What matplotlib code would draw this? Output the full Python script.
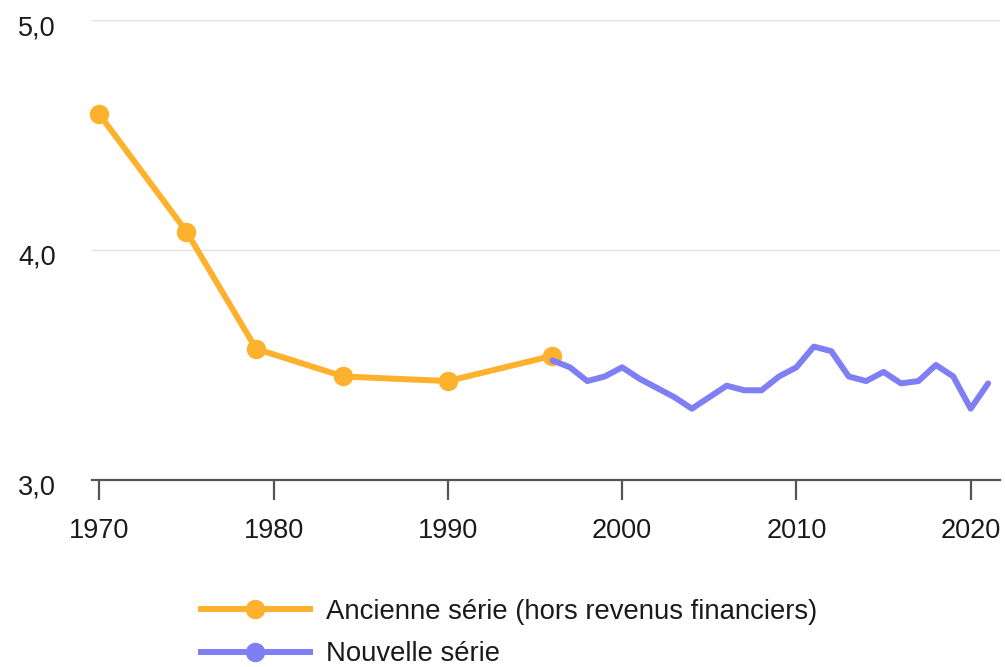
import matplotlib
matplotlib.use("Agg")
import matplotlib.pyplot as plt
from matplotlib.lines import Line2D
from matplotlib.transforms import ScaledTranslation

plt.rcParams['font.family'] = ['Liberation Sans', 'DejaVu Sans']

old_years = [1970, 1975, 1979, 1984, 1990, 1996]
old_values = [4.59, 4.08, 3.57, 3.45, 3.43, 3.54]

new_years = list(range(1996, 2022))
new_values = [3.52, 3.49, 3.43, 3.45, 3.49, 3.44, 3.40, 3.36, 3.31, 3.36,
              3.41, 3.39, 3.39, 3.45, 3.49, 3.58, 3.56, 3.45, 3.43, 3.47,
              3.42, 3.43, 3.50, 3.45, 3.31, 3.42]

x_ticks = [1970, 1980, 1990, 2000, 2010, 2020]
y_ticks = [3.0, 4.0, 5.0]
y_tick_labels = ['3,0', '4,0', '5,0']
labels = ['Ancienne série (hors revenus financiers)', 'Nouvelle série']

orange = '#fdb12c'
blue = '#7f7ff5'

fig = plt.figure(figsize=(10.05, 6.67), dpi=100)
ax = fig.add_axes([0.0912, 0.2804, 0.9038, 0.6896])

ax.plot(old_years, old_values, color=orange, lw=4.3, marker='o', ms=13,
        solid_capstyle='round', solid_joinstyle='round', zorder=3, clip_on=False)
ax.plot(new_years, new_values, color=blue, lw=4.3, solid_capstyle='round',
        solid_joinstyle='round', zorder=4, clip_on=False)

ax.set_xlim(1969.56, 2021.68)
ax.set_ylim(3.0, 5.0)
ax.set_xticks(x_ticks)
ax.set_xticklabels([str(t) for t in x_ticks])
ax.set_yticks(y_ticks)
ax.set_yticklabels(y_tick_labels)

for s in ['top', 'right', 'left']:
    ax.spines[s].set_visible(False)
ax.spines['bottom'].set_color('#555555')
ax.spines['bottom'].set_linewidth(1.6)
ax.spines['bottom'].set_zorder(2)

ax.yaxis.grid(True, color='#e0e0e0', lw=1.0)
ax.set_axisbelow(True)
ax.tick_params(axis='y', length=0, pad=26, labelsize=19.5, labelcolor='#1a1a1a')
ax.tick_params(axis='x', length=14.5, width=1.6, color='#555555', pad=13,
               labelsize=19.5, labelcolor='#1a1a1a')

off = ScaledTranslation(0, -5 / 100, fig.dpi_scale_trans)
for lab in ax.get_yticklabels():
    lab.set_transform(lab.get_transform() + off)

handles = [Line2D([0], [0], color=orange, lw=4.3, marker='o', ms=13),
           Line2D([0], [0], color=blue, lw=4.3, marker='o', ms=13)]
fig.legend(handles, labels, loc='upper left', bbox_to_anchor=(0.2, 0.102),
           bbox_transform=fig.transFigure, frameon=False, fontsize=19.8,
           handlelength=3.96, handletextpad=0.6, labelspacing=0.6,
           borderaxespad=0, borderpad=0, labelcolor='#1a1a1a')

fig.savefig('out.png', dpi=100)
